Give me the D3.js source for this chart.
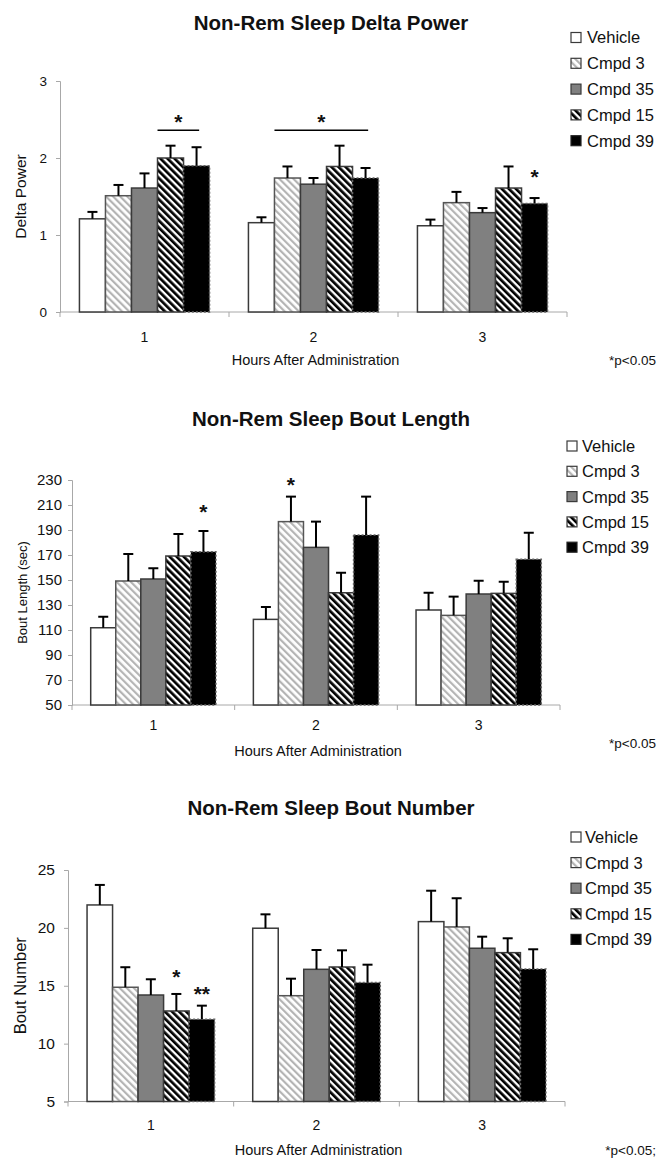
<!DOCTYPE html>
<html>
<head>
<meta charset="utf-8">
<script src="https://cdn.jsdelivr.net/npm/d3@7"></script>
<style>
  body { margin: 0; background: #fff; }
  text { font-family: "Liberation Sans", Arial, sans-serif; fill: #111; }
</style>
</head>
<body>
<div id="figure"></div>
<script>
// categories
var hours = ["1", "2", "3"];
var groups = ["Vehicle", "Cmpd 3", "Cmpd 35", "Cmpd 15", "Cmpd 39"];

// Delta power: one row per hour, one value per group
var deltaMeans = [
  [1.21, 1.51, 1.61, 2.00, 1.90],
  [1.16, 1.74, 1.66, 1.89, 1.74],
  [1.12, 1.42, 1.29, 1.61, 1.41]
];
var deltaSem = [
  [0.09, 0.14, 0.19, 0.16, 0.24],
  [0.07, 0.15, 0.08, 0.27, 0.13],
  [0.08, 0.14, 0.06, 0.28, 0.07]
];
var deltaTicks = [0, 1, 2, 3];
var deltaStars = [
  { hour: "1", from: "Cmpd 15", to: "Cmpd 39", label: "*", value: 2.53, lineValue: 2.36 },
  { hour: "2", from: "Cmpd 3", to: "Cmpd 39", label: "*", value: 2.53, lineValue: 2.36 },
  { hour: "3", from: "Cmpd 39", to: "Cmpd 39", label: "*", value: 1.82 }
];

// Bout length (sec)
var lengthMeans = [
  [111.8, 149.2, 150.8, 169.2, 172.6],
  [118.5, 196.7, 176.1, 139.8, 186.0],
  [126.0, 121.7, 138.8, 139.3, 166.6]
];
var lengthSem = [
  [8.8, 21.6, 8.6, 17.6, 16.6],
  [9.9, 20.0, 20.6, 16.0, 30.7],
  [13.8, 15.0, 10.6, 9.3, 21.2]
];
var lengthTicks = [50, 70, 90, 110, 130, 150, 170, 190, 210, 230];
var lengthStars = [
  { hour: "1", from: "Cmpd 39", to: "Cmpd 39", label: "*", value: 208.6 },
  { hour: "2", from: "Cmpd 3", to: "Cmpd 3", label: "*", value: 230 }
];

// Bout number
var numberMeans = [
  [21.98, 14.87, 14.20, 12.82, 12.10],
  [19.97, 14.14, 16.42, 16.62, 15.27],
  [20.54, 20.08, 18.24, 17.86, 16.45]
];
var numberSem = [
  [1.73, 1.73, 1.36, 1.47, 1.18],
  [1.20, 1.47, 1.67, 1.44, 1.55],
  [2.67, 2.48, 1.00, 1.24, 1.70]
];
var numberTicks = [5, 10, 15, 20, 25];
var numberStars = [
  { hour: "1", from: "Cmpd 15", to: "Cmpd 15", label: "*", value: 16.2 },
  { hour: "1", from: "Cmpd 39", to: "Cmpd 39", label: "**", value: 14.7 }
];

var svgWidth = 658;
var svgHeight = 1158;

var svg = d3.select("#figure")
  .append("svg")
  .attr("width", svgWidth)
  .attr("height", svgHeight);

svg.append("rect")
  .attr("width", svgWidth)
  .attr("height", svgHeight)
  .attr("fill", "#fff");

// hatch patterns for Cmpd 3 and Cmpd 15
var defs = svg.append("defs");

function addStripes(id, color, thick) {
  var pat = defs.append("pattern")
    .attr("id", id)
    .attr("patternUnits", "userSpaceOnUse")
    .attr("width", 5)
    .attr("height", 5)
    .attr("patternTransform", "rotate(-45)");
  pat.append("rect").attr("width", 5).attr("height", 5).attr("fill", "#fff");
  pat.append("rect").attr("width", thick).attr("height", 5).attr("fill", color);
}
addStripes("lightStripe", "#b4b4b4", 2.2);
addStripes("darkStripe", "#000", 2.7);

var fills = {
  "Vehicle": "#fff",
  "Cmpd 3": "url(#lightStripe)",
  "Cmpd 35": "#808080",
  "Cmpd 15": "url(#darkStripe)",
  "Cmpd 39": "#000"
};
var strokes = {
  "Vehicle": "#3a3a3a",
  "Cmpd 3": "#555",
  "Cmpd 35": "#3a3a3a",
  "Cmpd 15": "#3a3a3a",
  "Cmpd 39": "#666"
};

function drawPanel(p) {
  var g = svg.append("g");

  var x0 = d3.scaleBand()
    .domain(hours)
    .range([p.left, p.right])
    .paddingInner(0.23)
    .paddingOuter(0.115);

  var x1 = d3.scaleBand()
    .domain(groups)
    .range([0, x0.bandwidth()]);

  var y = d3.scaleLinear()
    .domain(p.domain)
    .range([p.bottom, p.top]);

  var rows = [];
  hours.forEach(function(h, i) {
    groups.forEach(function(s, j) {
      rows.push({ hour: h, group: s, mean: p.means[i][j], sem: p.sem[i][j] });
    });
  });

  // title
  g.append("text")
    .attr("x", 331)
    .attr("y", p.titleY)
    .style("text-anchor", "middle")
    .style("font-weight", "bold")
    .style("font-size", "20.5px")
    .text(p.title);

  // y axis
  var leftAxis = d3.axisLeft(y)
    .tickValues(p.ticks)
    .tickSize(4)
    .tickPadding(p.tickPad)
    .tickFormat(d3.format("d"));

  var yAxis = g.append("g")
    .attr("transform", `translate(${p.left}, 0)`)
    .call(leftAxis);
  yAxis.select(".domain").attr("stroke", "#a8a8a8");
  yAxis.selectAll(".tick line").attr("stroke", "#a8a8a8");
  yAxis.selectAll(".tick text")
    .style("font-size", p.tickSize + "px")
    .style("font-family", "Liberation Sans, Arial, sans-serif")
    .attr("fill", "#111");

  // x axis baseline + category separators
  g.append("line")
    .attr("x1", p.left).attr("x2", p.right)
    .attr("y1", p.bottom).attr("y2", p.bottom)
    .attr("stroke", "#a8a8a8");

  var edges = hours.map(function(h) { return x0(h) - x0.step() * 0.115; });
  edges.push(p.right);
  g.selectAll(".sep")
    .data(edges)
    .enter()
    .append("line")
    .attr("x1", d => d).attr("x2", d => d)
    .attr("y1", p.bottom).attr("y2", p.bottom + 5)
    .attr("stroke", "#a8a8a8");

  var bottomAxis = d3.axisBottom(x0).tickSize(0).tickPadding(p.xPad);
  var xAxis = g.append("g")
    .attr("transform", `translate(0, ${p.bottom})`)
    .call(bottomAxis);
  xAxis.select(".domain").remove();
  xAxis.selectAll(".tick text")
    .style("font-size", "14px")
    .style("font-family", "Liberation Sans, Arial, sans-serif")
    .attr("fill", "#111");

  // bars
  g.selectAll(".bar")
    .data(rows)
    .enter()
    .append("rect")
    .attr("x", d => x0(d.hour) + x1(d.group))
    .attr("y", d => y(d.mean))
    .attr("width", x1.bandwidth())
    .attr("height", d => p.bottom - y(d.mean))
    .attr("fill", d => fills[d.group])
    .attr("stroke", d => strokes[d.group])
    .attr("stroke-width", 1.5)
    .attr("stroke-dasharray", d => d.group == "Cmpd 39" ? "2,2" : null);

  // error bars (plus only)
  var err = g.selectAll(".err")
    .data(rows)
    .enter()
    .append("g")
    .attr("transform", d => `translate(${x0(d.hour) + x1(d.group) + x1.bandwidth() / 2}, 0)`);
  err.append("line")
    .attr("y1", d => y(d.mean)).attr("y2", d => y(d.mean + d.sem))
    .attr("stroke", "#000").attr("stroke-width", 2);
  err.append("line")
    .attr("x1", -5).attr("x2", 5)
    .attr("y1", d => y(d.mean + d.sem)).attr("y2", d => y(d.mean + d.sem))
    .attr("stroke", "#000").attr("stroke-width", 2);

  // significance marks
  p.stars.forEach(function(s) {
    var xa = x0(s.hour) + x1(s.from);
    var xb = x0(s.hour) + x1(s.to) + x1.bandwidth() * 0.6;
    var cx = s.from == s.to ? x0(s.hour) + x1(s.from) + x1.bandwidth() / 2 : (xa + xb) / 2;
    if (s.lineValue != null) {
      g.append("line")
        .attr("x1", xa).attr("x2", xb)
        .attr("y1", y(s.lineValue)).attr("y2", y(s.lineValue))
        .attr("stroke", "#000").attr("stroke-width", 1.5);
    }
    g.append("text")
      .attr("x", cx)
      .attr("y", y(s.value))
      .attr("dy", "0.57em")
      .style("text-anchor", "middle")
      .style("font-size", "21px")
      .style("font-weight", "bold")
      .text(s.label);
  });

  // axis labels
  g.append("text")
    .attr("transform", `translate(${p.yTitleX}, ${(p.top + p.bottom) / 2}) rotate(-90)`)
    .attr("dy", "0.35em")
    .style("text-anchor", "middle")
    .style("font-size", p.yTitleSize + "px")
    .text(p.yTitle);

  g.append("text")
    .attr("x", (p.left + p.right) / 2 + 2)
    .attr("y", p.xTitleY)
    .attr("dy", "0.35em")
    .style("text-anchor", "middle")
    .style("font-size", "14.5px")
    .text("Hours After Administration");

  g.append("text")
    .attr("x", 656)
    .attr("y", p.noteY)
    .attr("dy", "0.35em")
    .style("text-anchor", "end")
    .style("font-size", "13.5px")
    .text(p.note);

  // legend
  var legend = g.selectAll(".legend")
    .data(groups)
    .enter()
    .append("g")
    .attr("transform", (d, i) => `translate(${p.legendX}, ${p.legendY + i * p.legendStep})`);
  legend.append("rect")
    .attr("x", 0).attr("y", -5)
    .attr("width", 10).attr("height", 10)
    .attr("fill", d => fills[d])
    .attr("stroke", d => d == "Cmpd 39" ? "#222" : "#3a3a3a")
    .attr("stroke-width", 1.2);
  legend.append("text")
    .attr("x", p.legendText)
    .attr("dy", "0.36em")
    .style("font-size", "16.5px")
    .text(d => d);
}

drawPanel({
  title: "Non-Rem Sleep Delta Power", titleY: 30,
  means: deltaMeans, sem: deltaSem, ticks: deltaTicks, stars: deltaStars,
  domain: [0, 3], left: 60, right: 567, top: 81, bottom: 312,
  tickPad: 9, tickSize: 13.5, xPad: 20,
  yTitle: "Delta Power", yTitleX: 21, yTitleSize: 15.5,
  xTitleY: 360, note: "*p<0.05", noteY: 360,
  legendX: 571, legendY: 37.5, legendStep: 25.8, legendText: 16
});

drawPanel({
  title: "Non-Rem Sleep Bout Length", titleY: 426,
  means: lengthMeans, sem: lengthSem, ticks: lengthTicks, stars: lengthStars,
  domain: [50, 230], left: 72, right: 560, top: 480, bottom: 705,
  tickPad: 6, tickSize: 15, xPad: 15,
  yTitle: "Bout Length (sec)", yTitleX: 22, yTitleSize: 13,
  xTitleY: 751, note: "*p<0.05", noteY: 743,
  legendX: 567, legendY: 446, legendStep: 25.3, legendText: 15
});

drawPanel({
  title: "Non-Rem Sleep Bout Number", titleY: 815,
  means: numberMeans, sem: numberSem, ticks: numberTicks, stars: numberStars,
  domain: [5, 25], left: 68, right: 565, top: 870, bottom: 1101.5,
  tickPad: 9, tickSize: 15.5, xPad: 18.5,
  yTitle: "Bout Number", yTitleX: 20, yTitleSize: 16.5,
  xTitleY: 1150, note: "*p<0.05;", noteY: 1150,
  legendX: 571, legendY: 837, legendStep: 25.6, legendText: 14
});
</script>
</body>
</html>
